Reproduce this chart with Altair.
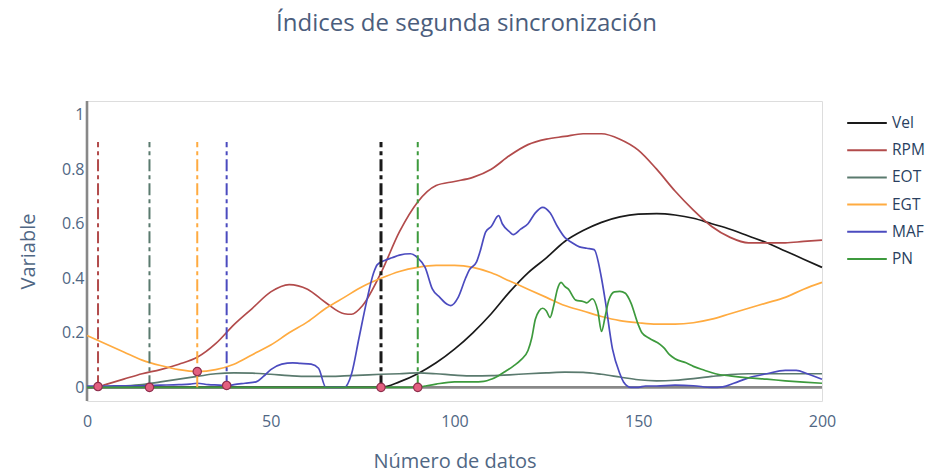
import altair as alt
import pandas as pd

# ---------------- data ----------------
series_names = ["Vel", "RPM", "EOT", "EGT", "MAF", "PN"]
series_colors = ["#1a1a1a", "#b24b4b", "#5a7a6e", "#ffab40", "#4b4bbf", "#3d9a3d"]

vel_x = [0, 80, 85, 90, 95, 100, 105, 110, 115, 120, 125, 130, 135, 140, 145, 150, 155,
         160, 165, 170, 175, 180, 185, 190, 195, 200]
vel_y = [0, 0, 0.02, 0.05, 0.09, 0.14, 0.2, 0.27, 0.35, 0.42, 0.475, 0.535, 0.575, 0.605,
         0.625, 0.635, 0.637, 0.632, 0.62, 0.60, 0.58, 0.555, 0.53, 0.50, 0.47, 0.44]

rpm_x = [0, 3, 5, 10, 15, 20, 25, 30, 35, 40, 45, 50, 55, 60, 65, 70, 72, 75, 80, 85, 90,
         95, 100, 105, 110, 115, 120, 125, 130, 135, 140, 145, 150, 155, 160, 165, 170,
         175, 180, 185, 190, 195, 200]
rpm_y = [0, 0.002, 0.01, 0.03, 0.05, 0.065, 0.085, 0.11, 0.16, 0.23, 0.29, 0.35, 0.377,
         0.36, 0.31, 0.27, 0.268, 0.3, 0.42, 0.57, 0.68, 0.74, 0.755, 0.77, 0.8, 0.85,
         0.89, 0.91, 0.92, 0.93, 0.93, 0.91, 0.87, 0.8, 0.72, 0.65, 0.59, 0.55, 0.53,
         0.53, 0.53, 0.535, 0.54]

eot_x = [0, 5, 10, 15, 20, 25, 30, 35, 40, 45, 50, 55, 60, 65, 70, 75, 80, 85, 90, 95,
         100, 105, 110, 115, 120, 125, 130, 135, 140, 145, 150, 155, 160, 165, 170, 175,
         180, 185, 190, 195, 200]
eot_y = [0, 0.002, 0.005, 0.01, 0.02, 0.03, 0.04, 0.05, 0.053, 0.052, 0.048, 0.043, 0.04,
         0.04, 0.042, 0.045, 0.048, 0.05, 0.053, 0.05, 0.045, 0.042, 0.043, 0.046, 0.05,
         0.053, 0.056, 0.055, 0.048, 0.038, 0.028, 0.024, 0.026, 0.032, 0.04, 0.047,
         0.05, 0.05, 0.05, 0.05, 0.05]

egt_x = [0, 5, 10, 15, 20, 25, 30, 35, 40, 45, 50, 55, 60, 65, 70, 75, 80, 85, 90, 95,
         100, 105, 110, 115, 120, 125, 130, 135, 140, 145, 150, 155, 160, 165, 170, 175,
         180, 185, 190, 195, 200]
egt_y = [0.19, 0.16, 0.13, 0.1, 0.08, 0.065, 0.058, 0.065, 0.085, 0.12, 0.155, 0.2, 0.24,
         0.29, 0.33, 0.37, 0.4, 0.425, 0.44, 0.447, 0.447, 0.44, 0.42, 0.39, 0.36, 0.33,
         0.3, 0.28, 0.26, 0.245, 0.237, 0.232, 0.232, 0.237, 0.25, 0.27, 0.29, 0.31,
         0.33, 0.36, 0.385]

maf_x = [0, 5, 10, 15, 20, 25, 28, 30, 33, 36, 38, 40, 43, 46, 48, 50, 53, 56, 58, 61,
         63, 65, 70, 72, 74, 76, 78, 79, 81, 83, 85, 88, 90, 92, 94, 96, 98, 99, 101, 103,
         104, 106, 107, 108.5, 110, 112, 113, 115, 116, 118, 120, 122, 124, 126, 128, 130,
         132, 134, 136, 138, 140, 141, 143, 145, 146, 148, 150, 152, 155, 160, 165, 170,
         173, 176, 180, 185, 190, 193, 196, 200]
maf_y = [0.005, 0.005, 0.006, 0.006, 0.008, 0.01, 0.012, 0.015, 0.01, 0.008, 0.006, 0.01,
         0.015, 0.02, 0.04, 0.065, 0.085, 0.09, 0.088, 0.085, 0.07, 0.0, 0.0, 0.05, 0.18,
         0.31, 0.42, 0.45, 0.465, 0.475, 0.485, 0.49, 0.475, 0.44, 0.36, 0.33, 0.305, 0.3,
         0.33, 0.4, 0.43, 0.46, 0.5, 0.57, 0.59, 0.63, 0.6, 0.57, 0.56, 0.58, 0.6, 0.64,
         0.66, 0.64, 0.59, 0.55, 0.53, 0.515, 0.51, 0.505, 0.4, 0.32, 0.14, 0.05, 0.02,
         0.0, 0.0, 0.005, 0.005, 0.008, 0.006, 0.0, 0.002, 0.015, 0.035, 0.05, 0.062,
         0.062, 0.05, 0.03]

pn_x = [0, 90, 92, 95, 100, 105, 108, 110, 112, 114, 116, 118, 120, 121, 122, 123, 124,
        125, 126, 127, 128, 129, 130, 131, 133, 135, 136, 137.5, 139, 140, 141, 142, 143.5,
        145, 146.5, 148, 150, 151, 153, 156, 157, 158.5, 160, 163, 165, 168, 171, 175, 180,
        185, 190, 195, 200]
pn_y = [0, 0, 0.005, 0.012, 0.02, 0.02, 0.022, 0.03, 0.043, 0.06, 0.078, 0.1, 0.135, 0.18,
        0.25, 0.28, 0.29, 0.28, 0.256, 0.3, 0.36, 0.385, 0.37, 0.36, 0.32, 0.315, 0.31,
        0.325, 0.28, 0.205, 0.26, 0.32, 0.35, 0.352, 0.345, 0.31, 0.23, 0.2, 0.18, 0.157,
        0.145, 0.12, 0.105, 0.09, 0.077, 0.063, 0.05, 0.042, 0.035, 0.03, 0.024, 0.019,
        0.015]

# sync points (one per variable)
sync_names = ["RPM", "EOT", "EGT", "MAF", "Vel", "PN"]
sync_x = [3, 17, 30, 38, 80, 90]
sync_y = [0.003, 0.0, 0.058, 0.007, 0.0, 0.0]
sync_top = 0.9

x_ticks = [0, 50, 100, 150, 200]
y_ticks = [0, 0.2, 0.4, 0.6, 0.8, 1]

# ---------------- tables ----------------
xs = [vel_x, rpm_x, eot_x, egt_x, maf_x, pn_x]
ys = [vel_y, rpm_y, eot_y, egt_y, maf_y, pn_y]
rows = []
for name, sx, sy in zip(series_names, xs, ys):
    for i, (a, b) in enumerate(zip(sx, sy)):
        rows.append({"serie": name, "x": a, "y": b, "order": i})
lines_df = pd.DataFrame(rows)

sync_df = pd.DataFrame({"serie": sync_names, "x": sync_x, "y": sync_y,
                        "base": [0.0] * len(sync_names),
                        "top": [sync_top] * len(sync_names)})

zero_df = pd.DataFrame({"x0": [x_ticks[0]], "x1": [x_ticks[-1]], "y0": [0.0]})

FONT = "Open Sans"
TXT = "#506784"

xscale = alt.Scale(domain=[0, 200], nice=False, zero=False)
yscale = alt.Scale(domain=[-0.05, 1.05], nice=False, zero=False)
cscale = alt.Scale(domain=series_names, range=series_colors)

x_axis = alt.Axis(values=x_ticks, grid=False, domain=False, ticks=False,
                  labelFlush=False,
                  labelFontSize=16, labelColor=TXT, labelFont=FONT, labelPadding=12,
                  title="Número de datos", titleFont=FONT, titleFontSize=20,
                  titleFontWeight="normal", titleColor=TXT, titleY=60,
                  titleBaseline="middle")
y_axis = alt.Axis(values=y_ticks, format="~g", grid=False, domain=False, ticks=False,
                  labelFlush=False,
                  labelFontSize=16, labelColor=TXT, labelFont=FONT, labelPadding=3,
                  title="Variable", titleFont=FONT, titleFontSize=20,
                  titleFontWeight="normal", titleColor=TXT, titleX=-59, titleY=150,
                  titleAngle=270, titleAlign="center", titleBaseline="middle")

zero_h = alt.Chart(zero_df).mark_rule(color="#888888", strokeWidth=2.6).encode(
    x=alt.X("x0:Q", scale=xscale, axis=x_axis), x2="x1:Q",
    y=alt.Y("y0:Q", scale=yscale, axis=y_axis))
zero_v = alt.Chart(zero_df).mark_rule(color="#888888", strokeWidth=2.6).encode(
    x=alt.X("x0:Q", scale=xscale))

legend = alt.Legend(title=None, orient="none", legendX=767, legendY=9, padding=0,
                    symbolType="M-1.65,0H1.65", symbolSize=576, symbolStrokeWidth=2,
                    labelFont=FONT, labelFontSize=15.5, labelColor="#2a3f5f",
                    labelOffset=12, rowPadding=5.2)

lines = alt.Chart(lines_df).mark_line(strokeWidth=1.7, interpolate="monotone").encode(
    x=alt.X("x:Q", scale=xscale),
    y=alt.Y("y:Q", scale=yscale),
    color=alt.Color("serie:N", scale=cscale, legend=legend),
    order="order:Q",
    detail="serie:N",
)

vlines = alt.Chart(sync_df).mark_rule(strokeWidth=2, strokeDash=[12, 4, 4, 4]).encode(
    x=alt.X("x:Q", scale=xscale),
    y=alt.Y("base:Q", scale=yscale),
    y2="top:Q",
    color=alt.Color("serie:N", scale=cscale, legend=None),
).transform_filter(alt.datum.serie != "Vel")

vline_vel = alt.Chart(sync_df).mark_rule(strokeWidth=3, strokeDash=[12, 4, 4, 4]).encode(
    x=alt.X("x:Q", scale=xscale),
    y=alt.Y("base:Q", scale=yscale),
    y2="top:Q",
    color=alt.Color("serie:N", scale=cscale, legend=None),
).transform_filter(alt.datum.serie == "Vel")

points = alt.Chart(sync_df).mark_point(shape="circle", filled=True, size=70,
                                       fill="#e35f7f", stroke="#8e2e4c",
                                       strokeWidth=1.2, opacity=1).encode(
    x=alt.X("x:Q", scale=xscale),
    y=alt.Y("y:Q", scale=yscale),
)

chart = alt.layer(zero_h, zero_v, lines, vlines, vline_vel, points).properties(
    width=735, height=300,
    title=alt.TitleParams("Índices de segunda sincronización", font=FONT, fontSize=24,
                          fontWeight="normal", color="#4b5d7c", anchor="middle",
                          dx=12, offset=45, baseline="alphabetic"),
    autosize=alt.AutoSizeParams(type="none"),
    padding={"left": 79, "top": 93, "right": 104, "bottom": 72},
).configure_view(stroke=None).configure(background="white")

chart.save("out.html", embed_options={"renderer": "svg", "actions": False})
